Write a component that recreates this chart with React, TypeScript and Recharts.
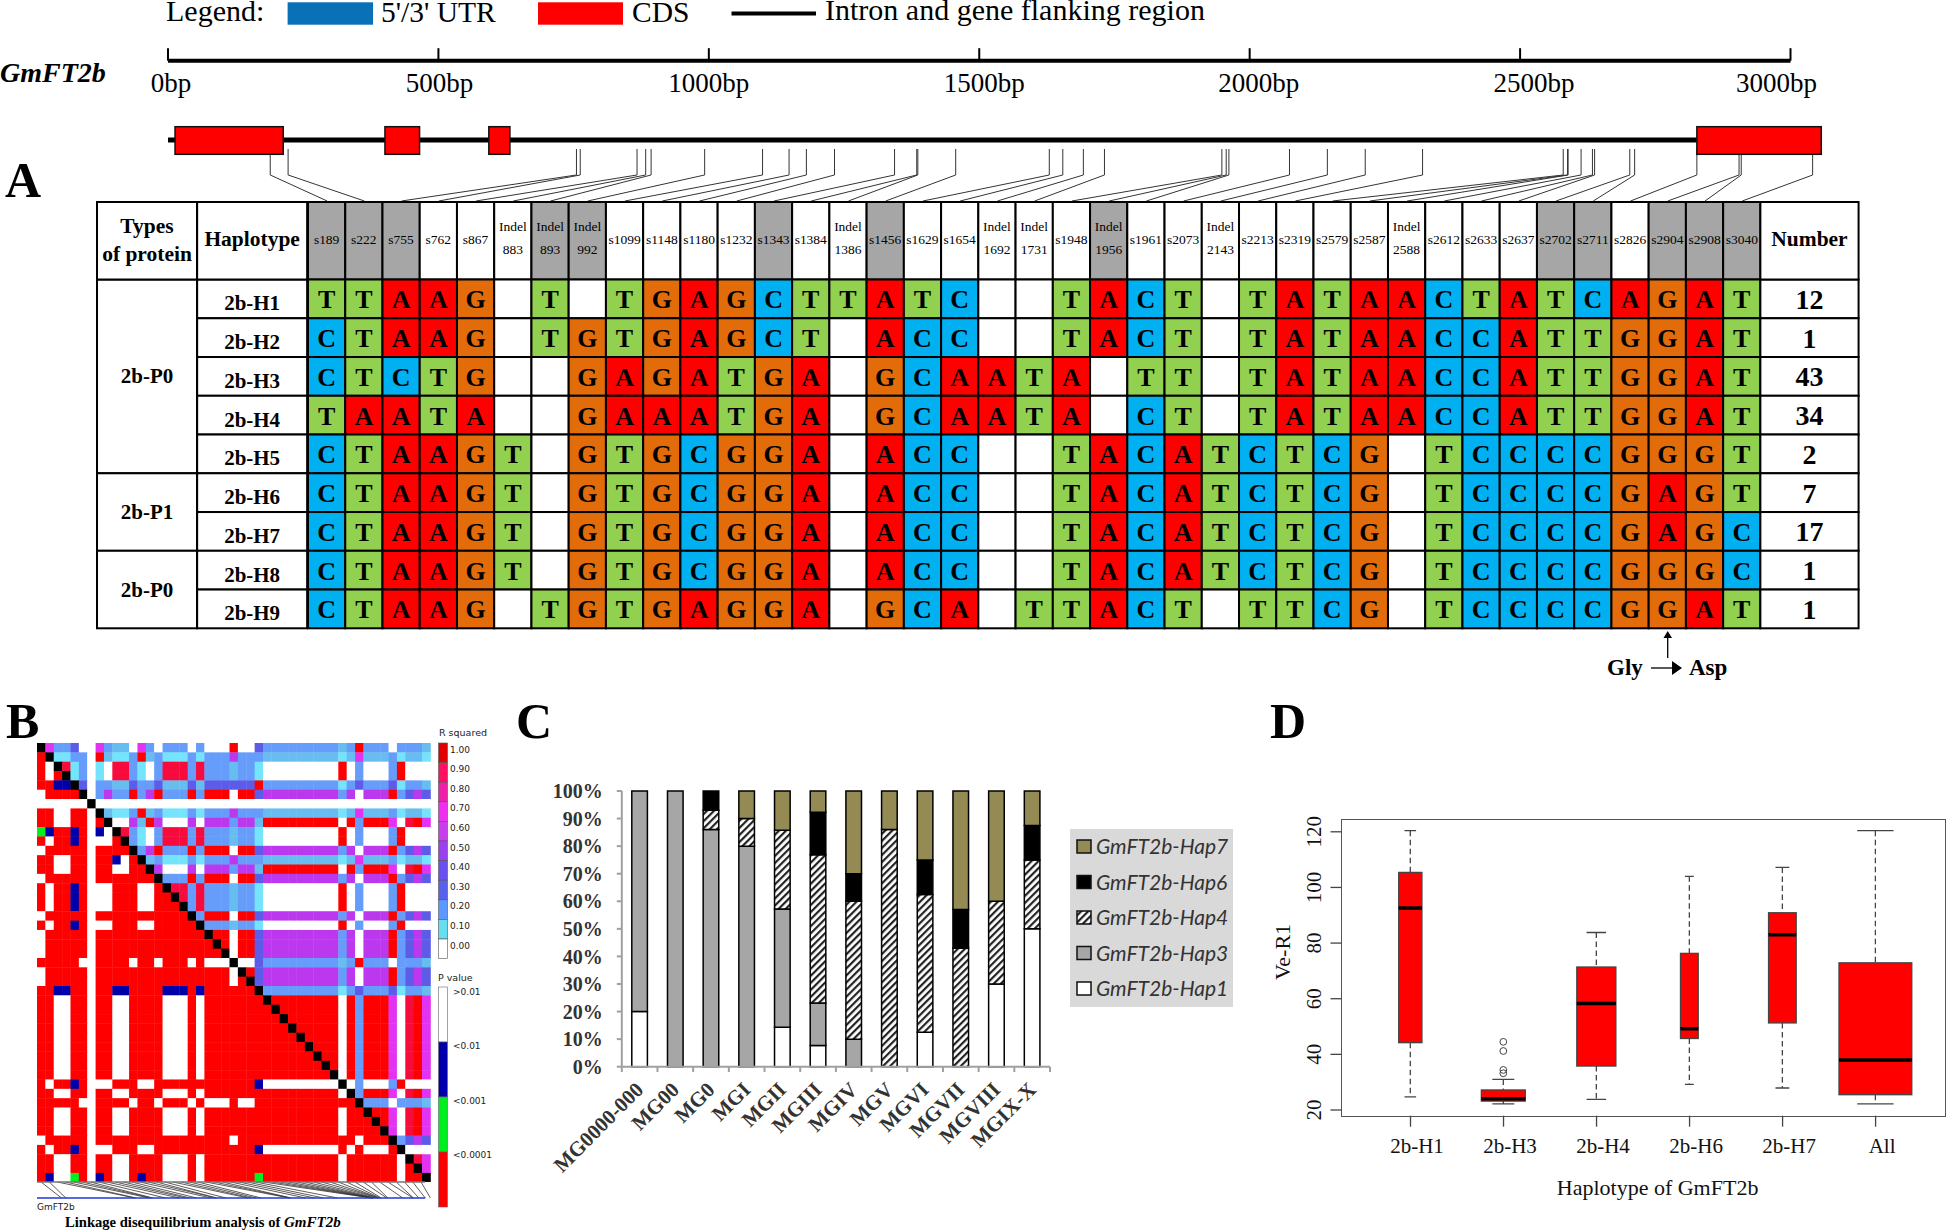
import {
  Bar,
  BarChart,
  ComposedChart,
  Scatter,
  ScatterChart,
  XAxis,
  YAxis,
} from 'recharts';

const SERIF = '"Liberation Serif", serif';
const SANS = '"DejaVu Sans", sans-serif';

// panel A: gene model
const scaleTicks = [0, 500, 1000, 1500, 2000, 2500, 3000];
const geneExons = [
  [13, 213],
  [401, 465],
  [593, 632],
  [2826, 3056],
];
const geneEnd = 2830;

// panel A: haplotype table
const siteNames = [
  's189', 's222', 's755', 's762', 's867', 'Indel 883', 'Indel 893', 'Indel 992', 's1099', 's1148',
  's1180', 's1232', 's1343', 's1384', 'Indel 1386', 's1456', 's1629', 's1654', 'Indel 1692', 'Indel 1731',
  's1948', 'Indel 1956', 's1961', 's2073', 'Indel 2143', 's2213', 's2319', 's2579', 's2587', 'Indel 2588',
  's2612', 's2633', 's2637', 's2702', 's2711', 's2826', 's2904', 's2908', 's3040',
];
const shadedSites = [
  's189', 's222', 's755', 'Indel 893', 'Indel 992', 's1343', 's1456', 'Indel 1956', 's2702', 's2711', 's2904', 's2908', 's3040',
];
const haplotypeNames = ['2b-H1', '2b-H2', '2b-H3', '2b-H4', '2b-H5', '2b-H6', '2b-H7', '2b-H8', '2b-H9'];
const haplotypeBases = [
  'TTAAG-T-TGAGCTTATC--TACT-TATAACTATCAGAT',
  'CTAAG-TGTGAGCT-ACC--TACT-TATAACCATTGGAT',
  'CTCTG--GAGATGA-GCAATA-TT-TATAACCATTGGAT',
  'TAATA--GAAATGA-GCAATA-CT-TATAACCATTGGAT',
  'CTAAGT-GTGCGGA-ACC--TACATCTCG-TCCCCGGGT',
  'CTAAGT-GTGCGGA-ACC--TACATCTCG-TCCCCGAGT',
  'CTAAGT-GTGCGGA-ACC--TACATCTCG-TCCCCGAGC',
  'CTAAGT-GTGCGGA-ACC--TACATCTCG-TCCCCGGGC',
  'CTAAG-TGTGAGGA-GCA-TTACT-TTCG-TCCCCGGAT',
];
const haplotypeCounts = [12, 1, 43, 34, 2, 7, 17, 1, 1];
const proteinGroups = [
  { name: '2b-P0', first: 0, last: 4 },
  { name: '2b-P1', first: 5, last: 6 },
  { name: '2b-P0', first: 7, last: 8 },
];
const baseColors: Record<string, string> = {
  T: '#92d050',
  A: '#ff0000',
  G: '#e36c0a',
  C: '#00b0f0',
  '-': '#ffffff',
};

// panel B: LD matrix, upper triangle is R squared, lower triangle is P value
const ldColors: Record<string, string> = {
  K: '#000000',
  R: '#ff0000',
  r: '#f70a3c',
  m: '#e233f2',
  p: '#bb38ee',
  i: '#5c5ce8',
  b: '#669cfa',
  t: '#68bdf0',
  c: '#74e4fc',
  n: '#0000aa',
  g: '#00f020',
  '.': '#ffffff',
};
const ldRows = [
  'Kmbbi .. mb tt . mb . bbb . b ... R .. i bbbbbbbbb t b R bbb . bbb t',
  'RKccb b. Rt cc b Rt b ccc b c bbb p bb b ttttttttt c t m ttt b ctt c',
  'R.Krc b. c. rr b c. b rrr b r bbb t bb c ......... R . b ... b R.. .',
  'R.RKc b. c. rr b c. b rrr b r bbb t bb c ......... R . b ... b R.. .',
  'RRnnK i. bb tt i bb i ttt i t iii i ii R bbbbbbbbb c b i bbb i cbb t',
  '.RRRR K. bp bb R bp R bbb R b RRR . RR i ppppppppp b p . ppp R bip i',
  '..... .K .. .. . .. . ... . . ... . .. . ......... . . . ... . ... .',
  'RR..R R. Kt cc b Rt b ccc b c bbb p bb b ttttttttt c t m ttt b ctt c',
  'RR..R R. RK .. p tR p ... p . ppp b pp t RRRRRRRRR . R b RRR m .rR m',
  'gnRRn R. n. Kr b c. b rrr b r bbb t bb c ......... R . b ... b R.. .',
  'R.RRn R. .. RK b c. b rrr b r bbb t bb c ......... R . b ... b R.. .',
  '.RRRR R. RR RR K bp R bbb R b RRR . RR i ppppppppp b p . ppp R bip i',
  'RR..R R. RR n. R Kt b ccc b c bbb p bb b ttttttttt c t m ttt b ctt c',
  'RR..R R. RR .. R RK p ... p . ppp b pp t RRRRRRRRR . R b RRR m .rR m',
  '.RRRR R. RR RR R RR K bbb R b RRR . RR i ppppppppp b p . ppp R bip i',
  'R.RRn R. .. RR R .. R Krr b r bbb t bb c ......... R . b ... b R.. .',
  'R.RRn R. .. RR R .. R RKr b r bbb t bb c ......... R . b ... b R.. .',
  'R.RRn R. .. RR R .. R RRK b r bbb t bb c ......... R . b ... b R.. .',
  '.RRRR R. RR RR R RR R RRR K b RRR . RR i ppppppppp b p . ppp R bip i',
  'R.RRn R. .. RR R .. R RRR R K bbb t bb c ......... R . b ... b R.. .',
  '.RRRR R. RR RR R RR R RRR R R KRR . RR i ppppppppp b p . ppp R bip i',
  '.RRRR R. RR RR R RR R RRR R R RKR . RR i ppppppppp b p . ppp R bip i',
  '.RRRR R. RR RR R RR R RRR R R RRK . RR i ppppppppp b p . ppp R bip i',
  'RRRRR .. RR RR . RR . RRR . R ... K .. i bbbbbbbbb t b R bbb . bbb t',
  '.RRRR R. RR RR R RR R RRR R R RRR . KR i ppppppppp b p . ppp R bip i',
  '.RRRR R. RR RR R RR R RRR R R RRR . RK i ppppppppp b p . ppp R bip i',
  'RRnnR R. RR nn R RR R nnn R n RRR R RR K bbbbbbbbb c b i bbb i cbb t',
  'RR..R R. RR .. R RR R ... R . RRR R RR R KRRRRRRRR . R b RRR m .rR m',
  'RR..R R. RR .. R RR R ... R . RRR R RR R RKRRRRRRR . R b RRR m .rR m',
  'RR..R R. RR .. R RR R ... R . RRR R RR R RRKRRRRRR . R b RRR m .rR m',
  'RR..R R. RR .. R RR R ... R . RRR R RR R RRRKRRRRR . R b RRR m .rR m',
  'RR..R R. RR .. R RR R ... R . RRR R RR R RRRRKRRRR . R b RRR m .rR m',
  'RR..R R. RR .. R RR R ... R . RRR R RR R RRRRRKRRR . R b RRR m .rR m',
  'RR..R R. RR .. R RR R ... R . RRR R RR R RRRRRRKRR . R b RRR m .rR m',
  'RR..R R. RR .. R RR R ... R . RRR R RR R RRRRRRRKR . R b RRR m .rR m',
  'RR..R R. RR .. R RR R ... R . RRR R RR R RRRRRRRRK . R b RRR m .rR m',
  'R.RRn R. .. RR R .. R RRR R R RRR R RR n ......... K . b ... b R.. .',
  'RR..R R. RR .. R RR R ... R . RRR R RR R RRRRRRRRR . K b RRR m .rR m',
  'RRRRR .. RR RR . RR . RRR . R ... R .. R RRRRRRRRR R R K bbb . bbb t',
  'RR..R R. RR .. R RR R ... R . RRR R RR R RRRRRRRRR . R R KRR m .rR m',
  'RR..R R. RR .. R RR R ... R . RRR R RR R RRRRRRRRR . R R RKR m .rR m',
  'RR..R R. RR .. R RR R ... R . RRR R RR R RRRRRRRRR . R R RRK m .rR m',
  '.RRRR R. RR RR R RR R RRR R R RRR . RR R RRRRRRRRR R R . RRR K bip i',
  'R.RRn R. .. RR R .. R RRR R R RRR R RR n ......... R . R ... R K.. .',
  'RR..R R. RR .. R RR R ... R . RRR R RR R RRRRRRRRR . R R RRR R .Kr m',
  'RR..R R. RR .. R RR R ... R . RRR R RR R RRRRRRRRR . R R RRR R .RK m',
  'Rn..g R. nR .. R nR R ... R . RRR R RR g RRRRRRRRR . R R RRR R .RR K',
];
const ldSitePositions = [
  189, 222, 755, 762, 867, 883, 893, 992, 1099, 1148, 1180, 1232, 1343, 1384, 1386, 1456, 1629, 1654, 1692, 1731,
  1948, 1956, 1961, 2073, 2143, 2213, 2319, 2579, 2587, 2588, 2590, 2595, 2600, 2612, 2633, 2637, 2640, 2650, 2660,
  2702, 2711, 2826, 2904, 2908, 2950, 3000, 3040,
];
const rSquaredLabels = ['1.00', '0.90', '0.80', '0.70', '0.60', '0.50', '0.40', '0.30', '0.20', '0.10', '0.00'];
const rSquaredColors = ['#e00000', '#ff1060', '#ee20a8', '#ee30ee', '#c840ee', '#9a40ee', '#6a50ee', '#5a60ee', '#5c98ff', '#66ddf0', '#ffffff'];
const pValueLabels = ['>0.01', '<0.01', '<0.001', '<0.0001'];
const pValueColors = ['#ffffff', '#0000aa', '#00ee20', '#ff0000'];

// panel C: haplotype share per maturity group
const maturityGroups = ['MG0000-000', 'MG00', 'MG0', 'MGI', 'MGII', 'MGIII', 'MGIV', 'MGV', 'MGVI', 'MGVII', 'MGVIII', 'MGIX-X'];
const hap1Share = [20, 0, 0, 0, 14.3, 7.7, 0, 0, 12.5, 0, 30, 50];
const hap3Share = [80, 100, 86, 80, 42.9, 15.4, 10, 0, 0, 0, 0, 0];
const hap4Share = [0, 0, 7, 10, 28.6, 53.8, 50, 86, 50, 43, 30, 25];
const hap6Share = [0, 0, 7, 0, 0, 15.4, 10, 0, 12.5, 14, 0, 12.5];
const hap7Share = [0, 0, 0, 10, 14.2, 7.7, 30, 14, 25, 43, 40, 12.5];
const shareTicks = [0, 10, 20, 30, 40, 50, 60, 70, 80, 90, 100];

// panel D: Ve-R1 per haplotype
const boxNames = ['2b-H1', '2b-H3', '2b-H4', '2b-H6', '2b-H7', 'All'];
const boxSampleSizes = [12, 43, 34, 7, 17, 118];
const boxLow = [24.7, 22.2, 23.8, 29.2, 27.9, 22.2];
const boxQ1 = [44.2, 23.2, 35.8, 45.7, 51.3, 25.5];
const boxMedian = [92.6, 24, 58.3, 49.2, 83, 38];
const boxQ3 = [105.4, 27.2, 71.4, 76.3, 90.9, 72.9];
const boxHigh = [120.4, 31, 83.8, 104, 107.2, 120.4];
const boxOutliers = [[], [44.5, 41.2, 34.4, 33.2], [], [], [], []];
const veTicks = [20, 40, 60, 80, 100, 120];

const BP_PX = 0.541;
const COL_PX = (1760.4 - 308) / 39;
const ROW_PX = 426.3 / 11;

function bpOfColumn(col: number) {
  return (308 + (col + 0.5) * COL_PX - 167.5) / BP_PX;
}

function ScaleBar() {
  const nudge = [3, 1, 0, 5, 9, 14, -14];
  const data = scaleTicks.map((bp) => ({ bp }));
  return (
    <div style={{ position: 'absolute', left: 147.5, top: 30 }}>
      <ComposedChart width={1680} height={80} data={data} margin={{ top: 10, right: 37.5, bottom: 0, left: 20 }}>
        <XAxis
          dataKey="bp"
          type="number"
          domain={[0, 3000]}
          ticks={scaleTicks}
          interval={0}
          height={49.3}
          axisLine={{ stroke: '#000', strokeWidth: 4 }}
          tickLine={false}
          tick={(p: any) => {
            const i = scaleTicks.indexOf(p.payload.value);
            return (
              <g>
                <line x1={p.x} x2={p.x} y1={18.2} y2={30.7} stroke="#000" strokeWidth={2} />
                <text x={p.x + nudge[i]} y={61.5} textAnchor="middle" fontFamily={SERIF} fontSize={27} fill="#000">
                  {p.payload.value}bp
                </text>
              </g>
            );
          }}
        />
        <YAxis hide domain={[0, 1]} />
      </ComposedChart>
    </div>
  );
}

function GeneModel() {
  const sites = siteNames.map((name) => Number(name.replace(/\D/g, '')));
  const ink = { stroke: '#333', strokeWidth: 1 };
  const exonCells = geneExons.map(([a, b]) => ({ x: (a + b) / 2, y: 140.5, len: b - a }));
  return (
    <div style={{ position: 'absolute', left: 167.5, top: 0 }}>
      <ScatterChart width={3100 * BP_PX} height={202} margin={{ top: 0, right: 0, bottom: 0, left: 0 }}>
        <XAxis dataKey="x" type="number" hide domain={[0, 3100]} />
        <YAxis dataKey="y" type="number" hide reversed domain={[0, 202]} />
        <Scatter
          data={[{ x: 0, y: 140 }, { x: geneEnd, y: 140 }]}
          line={{ stroke: '#000', strokeWidth: 5 }}
          shape={() => <g />}
          isAnimationActive={false}
        />
        {sites.map((pos, i) => (
          <Scatter
            key={pos}
            data={[
              { x: pos, y: pos > 2826 || pos < 213 ? 154 : 149 },
              { x: pos, y: 175 },
              { x: bpOfColumn(i), y: 201 },
            ]}
            line={ink}
            shape={() => <g />}
            isAnimationActive={false}
          />
        ))}
        <Scatter
          data={exonCells}
          isAnimationActive={false}
          shape={(p: any) => {
            const w = p.payload.len * BP_PX;
            return <rect x={p.cx - w / 2} y={p.cy - 13.8} width={w} height={27.6} fill="#ff0000" stroke="#111" strokeWidth={1.5} />;
          }}
        />
      </ScatterChart>
    </div>
  );
}

function HaplotypeTable() {
  const cellRect = (p: any, w: number, h: number, fill: string) => (
    <rect x={p.cx - w / 2} y={p.cy - h / 2} width={w} height={h} fill={fill} stroke="#000" strokeWidth={2} />
  );
  const headerCells = siteNames.map((name, i) => ({ x: i + 0.5, y: 1, name }));
  const baseCells = haplotypeBases.flatMap((row, r) =>
    row.split('').map((base, i) => ({ x: i + 0.5, y: r + 2.5, base })),
  );
  const hapCells = haplotypeNames.map((name, r) => ({ x: -1.5, y: r + 2.5, name }));
  const countCells = haplotypeCounts.map((n, r) => ({ x: 40.318, y: r + 2.5, n }));
  const groupCells = proteinGroups.map((g) => ({ x: -4.323, y: (g.first + g.last) / 2 + 2.5, ...g }));
  const labelCells = [
    { x: -4.323, y: 1, lines: ['Types', 'of protein'], w: 100 },
    { x: -1.5, y: 1, lines: ['Haplotype'], w: 110 },
    { x: 40.318, y: 1, lines: ['Number'], w: 98.2 },
  ];
  return (
    <div style={{ position: 'absolute', left: 94, top: 199 }}>
      <ScatterChart width={1767.6} height={432.3} margin={{ top: 3, right: 3, bottom: 3, left: 3 }}>
        <XAxis dataKey="x" type="number" hide domain={[(97 - 308) / COL_PX, (1858.6 - 308) / COL_PX]} />
        <YAxis dataKey="y" type="number" hide reversed domain={[0, 11]} />
        <Scatter
          data={headerCells}
          isAnimationActive={false}
          shape={(p: any) => {
            const name: string = p.payload.name;
            const parts = name.split(' ');
            return (
              <g fontFamily={SERIF} fontSize={13.5} textAnchor="middle" fill="#000">
                {cellRect(p, COL_PX, ROW_PX * 2, shadedSites.includes(name) ? '#a6a6a6' : '#fff')}
                {parts.length === 1 ? (
                  <text x={p.cx} y={p.cy + 3}>{name}</text>
                ) : (
                  <>
                    <text x={p.cx} y={p.cy - 10}>{parts[0]}</text>
                    <text x={p.cx} y={p.cy + 13}>{parts[1]}</text>
                  </>
                )}
              </g>
            );
          }}
        />
        <Scatter
          data={baseCells}
          isAnimationActive={false}
          shape={(p: any) => (
            <g>
              {cellRect(p, COL_PX, ROW_PX, baseColors[p.payload.base])}
              {p.payload.base !== '-' && (
                <text x={p.cx} y={p.cy + 9.5} textAnchor="middle" fontFamily={SERIF} fontWeight="bold" fontSize={26} fill="#000">
                  {p.payload.base}
                </text>
              )}
            </g>
          )}
        />
        <Scatter
          data={hapCells}
          isAnimationActive={false}
          shape={(p: any) => (
            <g>
              {cellRect(p, 110, ROW_PX, '#fff')}
              <text x={p.cx} y={p.cy + 11.5} textAnchor="middle" fontFamily={SERIF} fontWeight="bold" fontSize={21} fill="#000">
                {p.payload.name}
              </text>
            </g>
          )}
        />
        <Scatter
          data={countCells}
          isAnimationActive={false}
          shape={(p: any) => (
            <g>
              {cellRect(p, 98.2, ROW_PX, '#fff')}
              <text x={p.cx} y={p.cy + 10} textAnchor="middle" fontFamily={SERIF} fontWeight="bold" fontSize={28} fill="#000">
                {p.payload.n}
              </text>
            </g>
          )}
        />
        <Scatter
          data={groupCells}
          isAnimationActive={false}
          shape={(p: any) => (
            <g>
              {cellRect(p, 100, ROW_PX * (p.payload.last - p.payload.first + 1), '#fff')}
              <text x={p.cx} y={p.cy + 7} textAnchor="middle" fontFamily={SERIF} fontWeight="bold" fontSize={21} fill="#000">
                {p.payload.name}
              </text>
            </g>
          )}
        />
        <Scatter
          data={labelCells}
          isAnimationActive={false}
          shape={(p: any) => (
            <g fontFamily={SERIF} fontWeight="bold" fontSize={21.5} textAnchor="middle" fill="#000">
              {cellRect(p, p.payload.w, ROW_PX * 2, '#fff')}
              {p.payload.lines.map((line: string, i: number) => (
                <text key={line} x={p.cx} y={p.cy + (p.payload.lines.length === 1 ? 5 : i * 28 - 8)}>
                  {line}
                </text>
              ))}
            </g>
          )}
        />
      </ScatterChart>
    </div>
  );
}

function LdMatrix() {
  const rows = ldRows.map((r) => r.replace(/ /g, ''));
  const n = rows.length;
  const cells = rows.flatMap((row, j) => row.split('').map((v, i) => ({ x: i + 0.5, y: j + 0.5, v })));
  const w = 393.4 / n;
  const h = 439.3 / n;
  return (
    <div style={{ position: 'absolute', left: 37.3, top: 742.7 }}>
      <ScatterChart width={393.4} height={439.3} margin={{ top: 0, right: 0, bottom: 0, left: 0 }}>
        <XAxis dataKey="x" type="number" hide domain={[0, n]} />
        <YAxis dataKey="y" type="number" hide reversed domain={[0, n]} />
        <Scatter
          data={cells}
          isAnimationActive={false}
          shape={(p: any) => (
            <rect x={p.cx - w / 2} y={p.cy - h / 2} width={w + 0.4} height={h + 0.4} fill={ldColors[p.payload.v]} />
          )}
        />
      </ScatterChart>
    </div>
  );
}

function LdTrack() {
  const n = ldSitePositions.length;
  return (
    <div style={{ position: 'absolute', left: 37.3, top: 1181 }}>
      <ScatterChart width={393.4} height={18} margin={{ top: 0, right: 0, bottom: 0, left: 0 }}>
        <XAxis dataKey="x" type="number" hide domain={[0, n]} />
        <YAxis dataKey="y" type="number" hide reversed domain={[0, 1]} />
        {ldSitePositions.map((pos, i) => (
          <Scatter
            key={pos}
            data={[{ x: i + 0.5, y: 0.06 }, { x: (pos / 3000) * n, y: 0.94 }]}
            line={{ stroke: '#333', strokeWidth: 0.8 }}
            shape={() => <g />}
            isAnimationActive={false}
          />
        ))}
        <Scatter
          data={[{ x: 0, y: 0.06 }, { x: n, y: 0.06 }]}
          line={{ stroke: '#777', strokeWidth: 1.5 }}
          shape={() => <g />}
          isAnimationActive={false}
        />
        <Scatter
          data={[{ x: 0, y: 0.94 }, { x: n, y: 0.94 }]}
          line={{ stroke: '#2233dd', strokeWidth: 1.5 }}
          shape={() => <g />}
          isAnimationActive={false}
        />
      </ScatterChart>
    </div>
  );
}

function ShareChart() {
  const step = (1050 - 621.8) / maturityGroups.length;
  const data = maturityGroups.map((group, i) => ({
    group,
    hap1: hap1Share[i],
    hap3: hap3Share[i],
    hap4: hap4Share[i],
    hap6: hap6Share[i],
    hap7: hap7Share[i],
  }));
  const bar = { stackId: 'a', stroke: '#000', strokeWidth: 1.5, isAnimationActive: false, barSize: 15.6 };
  return (
    <div style={{ position: 'absolute', left: 530, top: 760 }}>
      <BarChart width={540} height={440} data={data} margin={{ top: 31, right: 20, bottom: 0, left: 0 }}>
        <defs>
          <pattern id="hatch" patternUnits="userSpaceOnUse" width="5" height="5" patternTransform="rotate(45)">
            <rect width="5" height="5" fill="#fff" />
            <rect width="2.2" height="5" fill="#222" />
          </pattern>
        </defs>
        <XAxis
          dataKey="group"
          interval={0}
          height={133.3}
          axisLine={{ stroke: '#a0a0a0', strokeWidth: 2 }}
          tickLine={false}
          tick={(p: any) => {
            const last = p.index === maturityGroups.length - 1;
            return (
              <g>
                <line x1={p.x - step / 2} x2={p.x - step / 2} y1={306.7} y2={312} stroke="#a0a0a0" strokeWidth={2} />
                {last && <line x1={p.x + step / 2} x2={p.x + step / 2} y1={306.7} y2={312} stroke="#a0a0a0" strokeWidth={2} />}
                <text
                  x={p.x + 5}
                  y={331}
                  transform={`rotate(-45 ${p.x + 5} 331)`}
                  textAnchor="end"
                  fontFamily={SERIF}
                  fontWeight="bold"
                  fontSize={21}
                  fill="#333"
                >
                  {p.payload.value}
                </text>
              </g>
            );
          }}
        />
        <YAxis
          width={91.8}
          domain={[0, 100]}
          ticks={shareTicks}
          interval={0}
          axisLine={{ stroke: '#a0a0a0', strokeWidth: 2 }}
          tickLine={{ stroke: '#a0a0a0', strokeWidth: 2 }}
          tickSize={5}
          tickMargin={14}
          tickFormatter={(v: number) => `${v}%`}
          tick={{ fontFamily: SERIF, fontWeight: 'bold', fontSize: 20, fill: '#333' }}
        />
        <Bar dataKey="hap1" fill="#ffffff" {...bar} />
        <Bar dataKey="hap3" fill="#a6a6a6" {...bar} />
        <Bar dataKey="hap4" fill="url(#hatch)" {...bar} />
        <Bar dataKey="hap6" fill="#000000" {...bar} />
        <Bar dataKey="hap7" fill="#948a54" {...bar} />
      </BarChart>
    </div>
  );
}

function ShareLegend() {
  const entries = [
    { name: 'GmFT2b-Hap7', fill: '#948a54' },
    { name: 'GmFT2b-Hap6', fill: '#000000' },
    { name: 'GmFT2b-Hap4', fill: 'url(#hatch)' },
    { name: 'GmFT2b-Hap3', fill: '#a6a6a6' },
    { name: 'GmFT2b-Hap1', fill: '#ffffff' },
  ];
  return (
    <svg style={{ position: 'absolute', left: 1069.5, top: 829 }} width={163} height={178}>
      <rect width={163} height={178} fill="#d9d9d9" />
      {entries.map((e, i) => (
        <g key={e.name}>
          <rect x={7} y={11 + i * 35.5} width={14} height={13} fill={e.fill} stroke="#111" strokeWidth={1.5} />
          <text x={26} y={25 + i * 35.5} fontFamily="Lato, sans-serif" fontStyle="italic" fontSize={21} fill="#333">
            {e.name}
          </text>
        </g>
      ))}
    </svg>
  );
}

function BoxShape(p: any) {
  const d = p.payload;
  const cx = p.x + p.width / 2;
  const top = p.height >= 0 ? p.y : p.y + p.height;
  const pxPerUnit = Math.abs(p.height) / (d.q3 - d.q1);
  const yOf = (v: number) => top + (d.q3 - v) * pxPerUnit;
  const boxW = 6.7 * Math.sqrt(d.n);
  const ink = '#444';
  return (
    <g>
      <line x1={cx} x2={cx} y1={yOf(d.high)} y2={yOf(d.q3)} stroke={ink} strokeWidth={1.3} strokeDasharray="5.5 3.5" />
      <line x1={cx} x2={cx} y1={yOf(d.q1)} y2={yOf(d.low)} stroke={ink} strokeWidth={1.3} strokeDasharray="5.5 3.5" />
      <line x1={cx - boxW / 4} x2={cx + boxW / 4} y1={yOf(d.high)} y2={yOf(d.high)} stroke={ink} strokeWidth={1.3} />
      <line x1={cx - boxW / 4} x2={cx + boxW / 4} y1={yOf(d.low)} y2={yOf(d.low)} stroke={ink} strokeWidth={1.3} />
      <rect x={cx - boxW / 2} y={top} width={boxW} height={Math.abs(p.height)} fill="#ff0000" stroke={ink} strokeWidth={1.3} />
      <line x1={cx - boxW / 2} x2={cx + boxW / 2} y1={yOf(d.median)} y2={yOf(d.median)} stroke="#000" strokeWidth={3.5} />
      {d.outliers.map((v: number) => (
        <circle key={v} cx={cx} cy={yOf(v)} r={3.4} fill="none" stroke={ink} strokeWidth={1} />
      ))}
    </g>
  );
}

function VeChart() {
  const data = boxNames.map((name, i) => ({
    name,
    n: boxSampleSizes[i],
    low: boxLow[i],
    q1: boxQ1[i],
    median: boxMedian[i],
    q3: boxQ3[i],
    high: boxHigh[i],
    outliers: boxOutliers[i],
  }));
  return (
    <>
      <div
        style={{
          position: 'absolute',
          left: 1341,
          top: 818.5,
          width: 603,
          height: 296.5,
          border: '1.5px solid #555',
          boxSizing: 'content-box',
        }}
      />
      <div style={{ position: 'absolute', left: 1260, top: 810 }}>
        <ComposedChart width={686} height={390} data={data} margin={{ top: 9, right: 1.4, bottom: 0, left: 0 }}>
          <XAxis
            dataKey="name"
            interval={0}
            height={84.3}
            padding={{ left: 22.5, right: 22.5 }}
            axisLine={false}
            tickSize={11}
            tickLine={{ stroke: '#444', strokeWidth: 1.3 }}
            tick={(p: any) => (
              <text x={p.x + 6.5} y={343} textAnchor="middle" fontFamily={SERIF} fontSize={21} fill="#111">
                {p.payload.value}
              </text>
            )}
          />
          <YAxis
            width={81.5}
            domain={[17.95, 124.6]}
            allowDataOverflow
            ticks={veTicks}
            interval={0}
            axisLine={false}
            tickSize={11}
            tickLine={{ stroke: '#444', strokeWidth: 1.3 }}
            tick={(p: any) => (
              <text
                x={54}
                y={p.y}
                transform={`rotate(-90 54 ${p.y})`}
                textAnchor="middle"
                dominantBaseline="central"
                fontFamily={SERIF}
                fontSize={21}
                fill="#111"
              >
                {p.payload.value}
              </text>
            )}
          />
          <Bar dataKey={(d: any) => [d.q1, d.q3]} shape={BoxShape} isAnimationActive={false} />
        </ComposedChart>
      </div>
    </>
  );
}

function Annotations() {
  const serif = { fontFamily: SERIF, fill: '#000' };
  const panelLabel = { ...serif, fontWeight: 'bold', fontSize: 50 };
  const small = { fontFamily: SANS, fontSize: 9, fill: '#222' };
  return (
    <svg style={{ position: 'absolute', left: 0, top: 0 }} width={1946} height={1231}>
      <text x={166} y={21} {...serif} fontSize={30}>Legend:</text>
      <rect x={287.6} y={2.3} width={85.4} height={22.4} fill="#0a70b8" />
      <text x={381} y={22} {...serif} fontSize={29.5}>5'/3' UTR</text>
      <rect x={538} y={2.3} width={85} height={22.4} fill="#ff0000" />
      <text x={632} y={22} {...serif} fontSize={29.5}>CDS</text>
      <line x1={731.5} x2={816} y1={13.5} y2={13.5} stroke="#000" strokeWidth={4} />
      <text x={825} y={20} {...serif} fontSize={30}>Intron and gene flanking region</text>
      <text x={0} y={82} {...serif} fontWeight="bold" fontStyle="italic" fontSize={28}>GmFT2b</text>

      <text x={5} y={197} {...panelLabel}>A</text>
      <text x={6} y={738} {...panelLabel}>B</text>
      <text x={516} y={738} {...panelLabel}>C</text>
      <text x={1270} y={738} {...panelLabel}>D</text>

      <line x1={1667.7} x2={1667.7} y1={658} y2={637} stroke="#000" strokeWidth={1.3} />
      <polygon points="1667.7,631 1663.5,638 1672,638" fill="#000" />
      <line x1={1651} x2={1674} y1={668} y2={668} stroke="#000" strokeWidth={1.3} />
      <polygon points="1682,668 1672,661 1672,675" fill="#000" />
      <text x={1607} y={675} {...serif} fontWeight="bold" fontSize={23}>Gly</text>
      <text x={1689} y={675} {...serif} fontWeight="bold" fontSize={23}>Asp</text>

      <text x={439} y={736} {...small} fontSize={9.5}>R squared</text>
      {rSquaredColors.map((c, i) => (
        <rect key={c} x={438.5} y={743 + i * 19.6} width={9} height={19.6} fill={c} stroke="#555" strokeWidth={0.6} />
      ))}
      {rSquaredLabels.map((l, i) => (
        <text key={l} x={450} y={752.5 + i * 19.6} {...small}>{l}</text>
      ))}
      <text x={438} y={981} {...small} fontSize={9.5}>P value</text>
      {pValueColors.map((c, i) => (
        <rect key={c} x={438.5} y={987 + i * 55} width={9} height={55} fill={c} stroke="#666" strokeWidth={0.6} />
      ))}
      {pValueLabels.map((l, i) => (
        <text key={l} x={453} y={995 + i * 54.4} {...small}>{l}</text>
      ))}
      <text x={37} y={1210} {...small} fontSize={9}>GmFT2b</text>
      <text x={65} y={1227} {...serif} fontWeight="bold" fontSize={14.6}>Linkage disequilibrium analysis of</text>
      <text x={284} y={1227} {...serif} fontWeight="bold" fontStyle="italic" fontSize={15}>GmFT2b</text>

      <text x={1282.5} y={952} transform="rotate(-90 1282.5 952)" textAnchor="middle" dominantBaseline="central" fontFamily={SERIF} fontSize={22} fill="#111">
        Ve-R1
      </text>
      <text x={1657.6} y={1195} textAnchor="middle" fontFamily={SERIF} fontSize={22} fill="#111">
        Haplotype of GmFT2b
      </text>
    </svg>
  );
}

export default function App() {
  return (
    <div style={{ position: 'absolute', left: 0, top: 0, width: 1946, height: 1231, background: '#fff', overflow: 'hidden' }}>
      <ScaleBar />
      <GeneModel />
      <HaplotypeTable />
      <LdMatrix />
      <LdTrack />
      <ShareChart />
      <ShareLegend />
      <VeChart />
      <Annotations />
    </div>
  );
}
